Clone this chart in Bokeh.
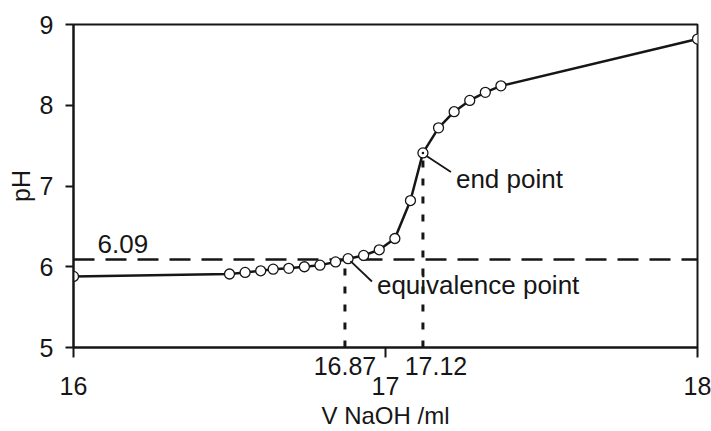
from bokeh.plotting import figure
from bokeh.models import Label, Range1d, FixedTicker, Segment, ColumnDataSource, LinearAxis
from bokeh.embed import file_html
from bokeh.resources import INLINE

# ---- data ----
volume = [16.00, 16.50, 16.55, 16.60, 16.64, 16.69, 16.74, 16.79, 16.84, 16.88,
          16.93, 16.98, 17.03, 17.08, 17.12, 17.17, 17.22, 17.27, 17.32, 17.37, 18.00]
ph = [5.88, 5.91, 5.93, 5.95, 5.97, 5.98, 6.00, 6.02, 6.06, 6.10,
      6.14, 6.21, 6.35, 6.82, 7.41, 7.72, 7.92, 8.06, 8.16, 8.24, 8.82]
eq_volume = 16.87
eq_ph = 6.09
end_volume = 17.12
end_ph = 7.41
x_ticks = [16, 17, 18]
y_ticks = [5, 6, 7, 8, 9]
x_range = (16, 18)
y_range = (5, 9)

FONT = "Liberation Sans"
INK = "#161616"
TICK_FS = "25px"
NOTE_FS = "26px"

W, H = 711, 431
BL, BR, BT, BB = 73, 14, 24, 84
FW, FH = W - BL - BR, H - BT - BB
xpp = (x_range[1] - x_range[0]) / FW   # data units per pixel
ypp = (y_range[1] - y_range[0]) / FH

p = figure(width=W, height=H, output_backend="svg", toolbar_location=None,
           x_range=Range1d(*x_range), y_range=Range1d(*y_range),
           min_border_left=BL, min_border_right=BR, min_border_top=BT, min_border_bottom=BB,
           background_fill_color="white", border_fill_color="white")
p.grid.visible = False
p.outline_line_color = INK
p.outline_line_width = 2


def style(ax):
    ax.axis_line_color = INK
    ax.axis_line_width = 2
    ax.major_tick_line_color = INK
    ax.major_tick_line_width = 2
    ax.minor_tick_line_color = INK
    ax.minor_tick_line_width = 2
    ax.major_tick_in = 0
    ax.minor_tick_in = 0
    ax.major_label_text_font = FONT
    ax.major_label_text_font_size = TICK_FS
    ax.major_label_text_color = INK
    ax.axis_label_text_font = FONT
    ax.axis_label_text_font_size = TICK_FS
    ax.axis_label_text_font_style = "normal"
    ax.axis_label_text_color = INK


# inner x axis: ticks at 16/17/18 and the two marked volumes
ax_in = p.xaxis[0]
style(ax_in)
end_label_pos = end_volume + 13 * xpp
ax_in.ticker = FixedTicker(ticks=[eq_volume, end_label_pos], minor_ticks=x_ticks)
ax_in.major_label_overrides = {eq_volume: f"{eq_volume:.2f}", end_label_pos: f"{end_volume:.2f}"}
ax_in.major_tick_out = 0
ax_in.minor_tick_out = 10
ax_in.major_label_standoff = -1

# outer x axis: 16 / 17 / 18 labels and the axis title
ax_out = LinearAxis(ticker=FixedTicker(ticks=x_ticks))
style(ax_out)
ax_out.axis_line_color = None
ax_out.major_tick_line_color = None
ax_out.minor_tick_line_color = None
ax_out.major_tick_out = 0
ax_out.minor_tick_out = 0
ax_out.major_label_standoff = -1
ax_out.axis_label = "V NaOH /ml"
ax_out.axis_label_text_font_size = "24px"
ax_out.axis_label_standoff = 4
p.add_layout(ax_out, "below")

yax = p.yaxis[0]
style(yax)
yax.ticker = FixedTicker(ticks=y_ticks)
yax.major_tick_out = 8
yax.major_label_standoff = 12
yax.axis_label = "pH"
yax.axis_label_standoff = 2

# reference lines
p.line(x=list(x_range), y=[eq_ph, eq_ph], line_color=INK, line_width=2.5, line_dash="21 11")
p.line(x=[eq_volume, eq_volume], y=[y_range[0], eq_ph], line_color=INK, line_width=3, line_dash="7 11")
p.line(x=[end_volume, end_volume], y=[y_range[0], end_ph], line_color=INK, line_width=3, line_dash="7 11")

# titration curve
p.line(x=volume, y=ph, line_color=INK, line_width=2.5)
mask = [abs(v - end_volume) > 1e-9 for v in volume]
p.scatter(x=[v for v, m in zip(volume, mask) if m], y=[q for q, m in zip(ph, mask) if m],
          marker="circle", size=10, fill_color="white", line_color=INK, line_width=1.3)
p.scatter(x=[end_volume], y=[end_ph], marker="circle_dot", size=10,
          fill_color="white", line_color=INK, line_width=1.3)

# leader lines (pixel offsets from the anchor points)
lead = ColumnDataSource(dict(
    x0=[eq_volume + 5.6 * xpp, end_volume + 3.6 * xpp],
    y0=[eq_ph - 1.7 * ypp, end_ph - 3 * ypp],
    x1=[eq_volume + 27 * xpp, end_volume + 28 * xpp],
    y1=[eq_ph - 22 * ypp, end_ph - 19 * ypp]))
p.add_glyph(lead, Segment(x0="x0", y0="y0", x1="x1", y1="y1", line_color=INK, line_width=1.8))


def lab(x, y, text, dx, dy):
    p.add_layout(Label(x=x, y=y, text=text, x_offset=dx, y_offset=dy,
                       text_align="left", text_baseline="alphabetic",
                       text_font=FONT, text_font_size=NOTE_FS, text_color=INK))


lab(x_range[0], eq_ph, f"{eq_ph:.2f}", 24, 15)
lab(end_volume, end_ph, "end point", 33, -26)
lab(eq_volume, eq_ph, "equivalence point", 32, -26)

open("out.html", "w").write(file_html(p, INLINE))
